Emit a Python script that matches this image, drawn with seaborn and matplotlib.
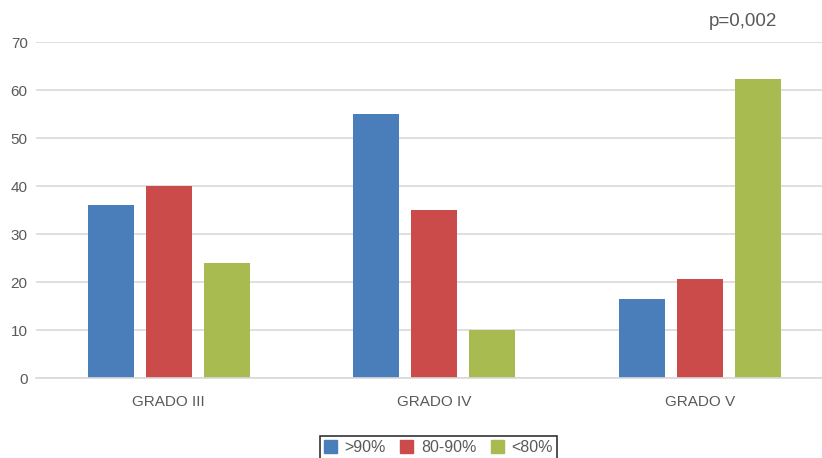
import matplotlib.pyplot as plt
import pandas as pd
import seaborn as sns

grados = ['GRADO III', 'GRADO IV', 'GRADO V']
grupos = ['>90%', '80-90%', '<80%']
mayor_90 = [36, 55, 16.5]
entre_80_90 = [40, 35, 20.7]
menor_80 = [24, 10, 62.3]
colores = ['#4a7ebb', '#cb4a4a', '#a7bb50']

df = pd.DataFrame({
    'grado': grados * 3,
    'grupo': [g for g in grupos for _ in grados],
    'valor': mayor_90 + entre_80_90 + menor_80,
})

sns.set_style('white')
plt.rcParams['font.family'] = ['Liberation Sans', 'DejaVu Sans']

fig = plt.figure(figsize=(8.22, 4.58), dpi=100)
ax = fig.add_axes([36 / 822, 80 / 458, 786 / 822, 336 / 458])

sns.barplot(data=df, x='grado', y='valor', hue='grupo', order=grados, hue_order=grupos,
            palette=colores, width=0.654, gap=0.207, ax=ax, legend=False, saturation=1,
            linewidth=0)

ax.set_xlim(-0.5, 2.46)
ax.set_ylim(0, 70)
ax.set_yticks(range(0, 71, 10))
ax.yaxis.grid(True, color='#d9d9d9', linewidth=1.2)
ax.set_axisbelow(True)
for s in ['top', 'right', 'left']:
    ax.spines[s].set_visible(False)
ax.spines['bottom'].set_color('#d9d9d9')
ax.spines['bottom'].set_linewidth(1.2)
ax.tick_params(axis='both', length=0, labelsize=11, colors='#595959', pad=6)
ax.tick_params(axis='x', pad=12)
ax.set_xlabel('')
ax.set_ylabel('')

fig.text(743 / 822, 1 - 22 / 458, 'p=0,002', ha='center', va='center', fontsize=13.5, color='#595959')

handles = [plt.Rectangle((0, 0), 1, 1, color=c) for c in colores]
leg = fig.legend(handles, grupos, loc='upper center', bbox_to_anchor=(438.5 / 822, 1 - 436 / 458),
                 ncol=3, frameon=True, fancybox=False, fontsize=11.5, handlelength=0.8, handleheight=0.8,
                 handletextpad=0.5, columnspacing=0.9, borderpad=0.25, borderaxespad=0,
                 labelcolor='#595959')
leg.get_frame().set_edgecolor('black')
leg.get_frame().set_linewidth(1.2)

fig.savefig('out.png', dpi=100)
